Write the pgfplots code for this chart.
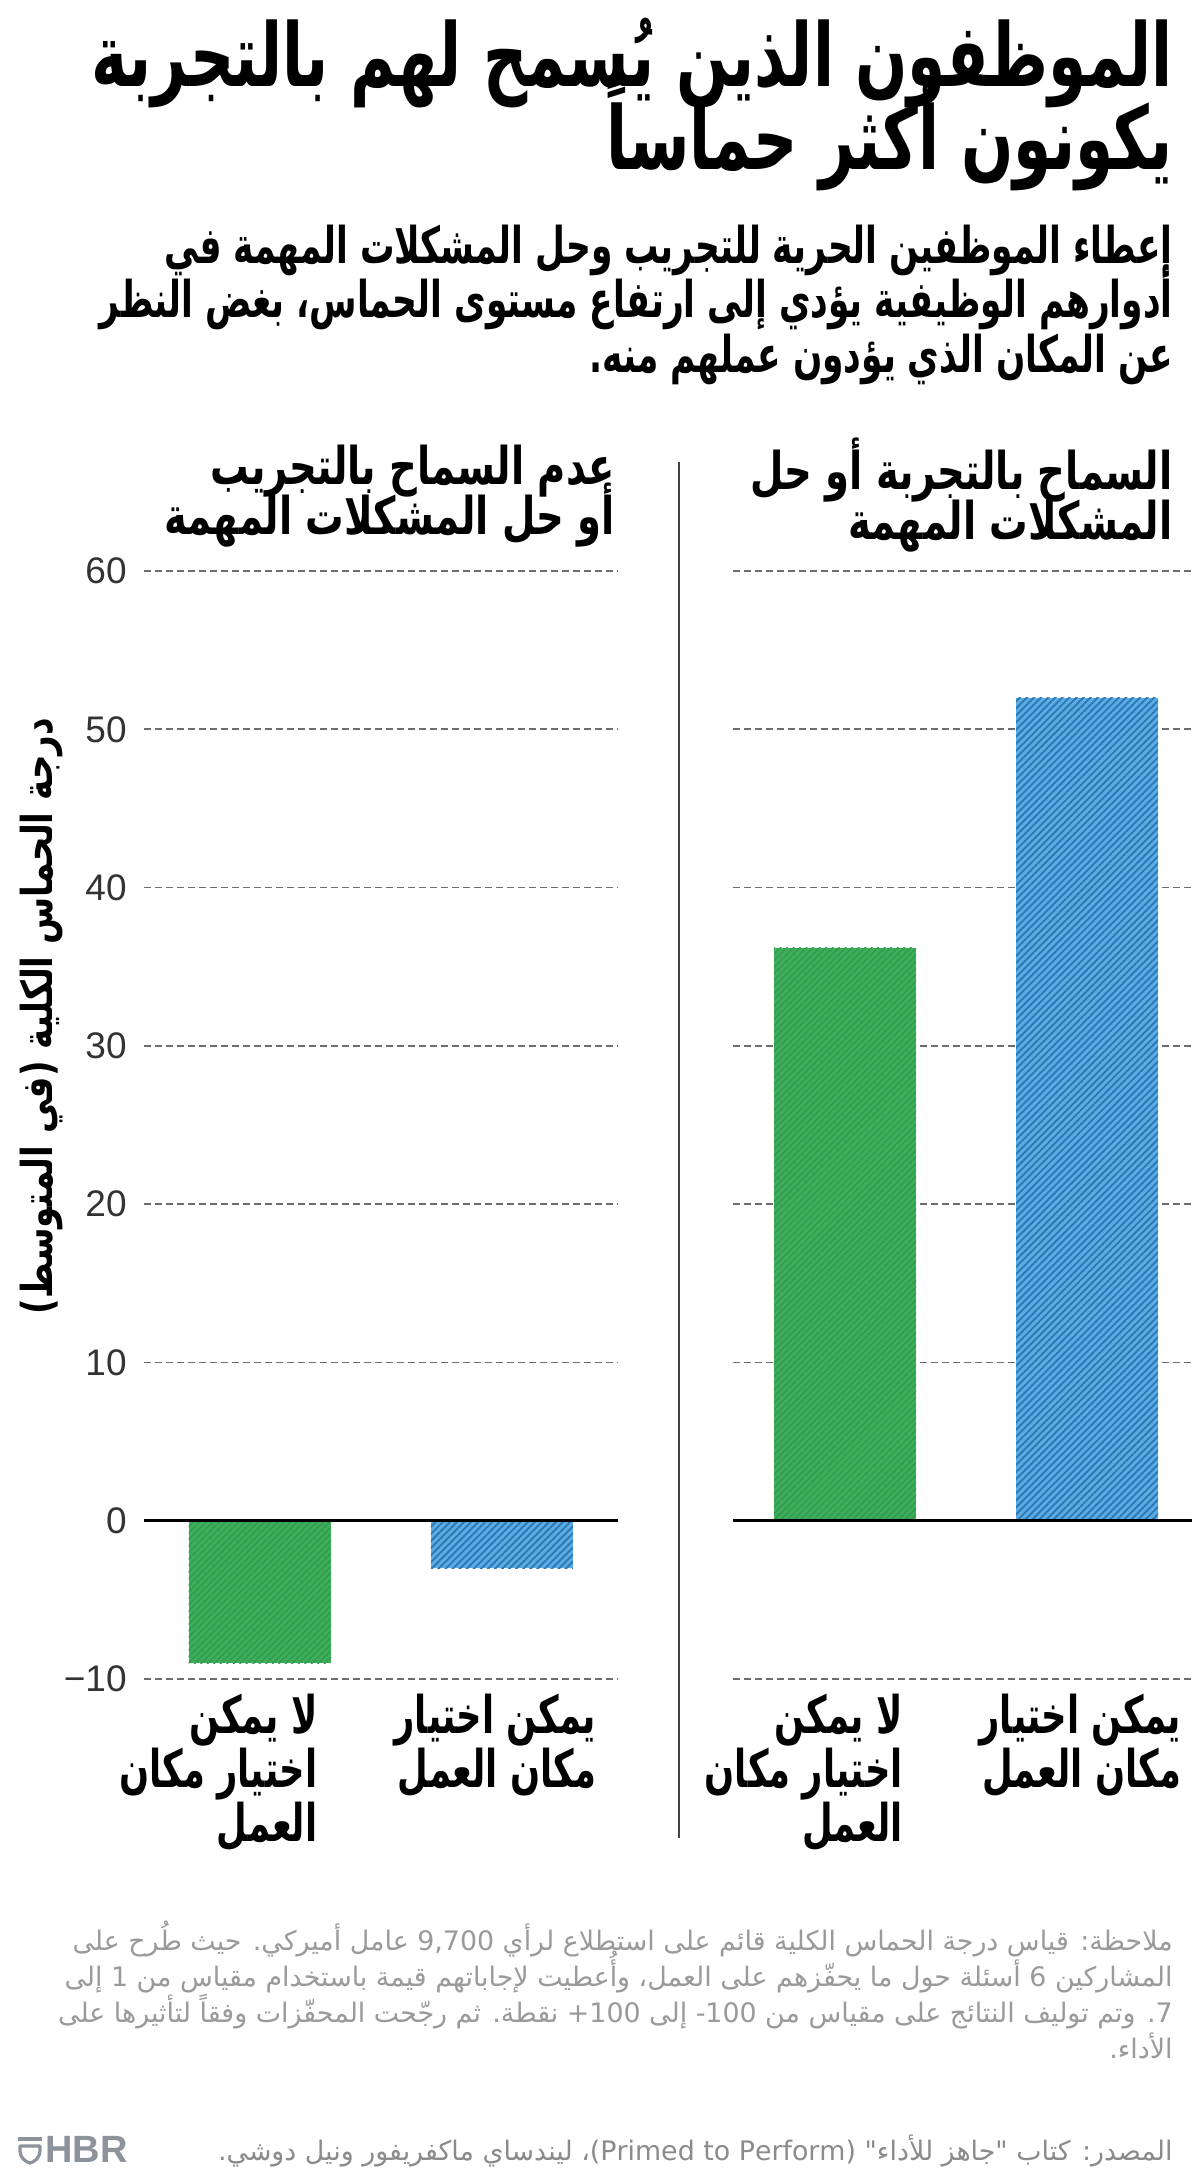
\documentclass[border=0pt]{standalone}
\usepackage{fontspec}
\setmainfont{Liberation Sans}
\usepackage{pgfplots}
\pgfplotsset{compat=1.18}
\usetikzlibrary{patterns.meta}
\TeXXeTstate=1
\newfontfamily\arR[Script=Arabic]{DejaVu Sans}
\newfontfamily\arS[Script=Arabic,FakeStretch=0.8]{DejaVu Sans}
\newfontfamily\arH[Script=Arabic,FakeStretch=0.74]{DejaVu Sans}
\newfontfamily\arC[Script=Arabic,FakeStretch=0.68]{DejaVu Sans}
\newfontfamily\arT[Script=Arabic,FakeStretch=0.7]{DejaVu Sans}
\newfontfamily\libs{Liberation Sans}
\definecolor{gbar}{HTML}{3DAD5B}
\definecolor{ghatch}{HTML}{2F9A4B}
\definecolor{bbar}{HTML}{5CADE0}
\definecolor{bhatch}{HTML}{2C78BA}
\definecolor{gridc}{HTML}{6D6D6D}
\definecolor{tickc}{HTML}{333333}
\definecolor{notec}{HTML}{9A9A9A}
\definecolor{hbrc}{HTML}{8C939B}
\definecolor{divc}{HTML}{444444}
\newlength\fitlen
\newcommand\fitto[4]{\settowidth\fitlen{#2\fontsize{20pt}{24pt}\selectfont\beginR #3\endR}\pgfmathsetmacro#1{20*#4/\fitlen}}
\newcommand\catfont{\arC\bfseries\fontsize{\csz pt}{26pt}\selectfont}
\fitto{\tsz}{\arT\bfseries}{الموظفون الذين يُسمح لهم بالتجربة}{540.5}
\fitto{\ssz}{\arC\bfseries}{أدوارهم الوظيفية يؤدي إلى ارتفاع مستوى الحماس، بغض النظر}{536.5}
\fitto{\hsz}{\arH\bfseries}{أو حل المشكلات المهمة}{225}
\fitto{\ysz}{\arS\bfseries}{درجة الحماس الكلية (في المتوسط)}{298}
\fitto{\csz}{\arC\bfseries}{اختيار مكان}{99}
\fitto{\nsz}{\arR}{ملاحظة: قياس درجة الحماس الكلية قائم على استطلاع لرأي 9,700 عامل أميركي. حيث طُرح على}{550}
\pgfmathsetmacro\catys{\csz-27}
\pgfplotsset{
  panel/.style={
    scale only axis, height=554pt, ymin=-10, ymax=60, ytick={-10,0,...,60},
    enlargelimits=false, axis line style={draw=none}, major tick length=0pt,
    ymajorgrids, major grid style={draw=gridc, dash pattern=on 3.5pt off 2pt, line width=0.9pt},
    xtick={0.24,1.39}, clip=false,
    xticklabels={{\rule{0pt}{1em}\beginR لا يمكن\endR\\\beginR اختيار مكان\endR\\\beginR العمل\endR},{\rule{0pt}{1em}\beginR يمكن اختيار\endR\\\beginR مكان العمل\endR}},
    xticklabel style={anchor=north east, align=right, inner sep=0pt, yshift=\catys pt, font=\catfont},
    yticklabel style={font=\libs\fontsize{18.5pt}{20pt}\selectfont, text=tickc, anchor=east, inner sep=0pt, xshift=-8.5pt},
  },
  gbarst/.style={ybar, bar width=71pt, bar shift=0pt, fill=gbar, draw=none,
    postaction={pattern={Lines[angle=45,distance=2.3pt,line width=0.6pt]}, pattern color=ghatch}},
  bbarst/.style={ybar, bar width=71pt, bar shift=0pt, fill=bbar, draw=none,
    postaction={pattern={Lines[angle=45,distance=2.5pt,line width=0.95pt]}, pattern color=bhatch}},
}
\begin{document}%
\begin{tikzpicture}
\fill[white] (0pt,0pt) rectangle (600pt,-1088.5pt);
\path[use as bounding box] (0pt,0pt) rectangle (600pt,-1088.5pt);
\begin{scope}[every node/.style={anchor=base east, inner sep=0pt}]
% title
\node[font=\arT\bfseries\fontsize{\tsz pt}{\tsz pt}\selectfont] at (586.5pt,-43.5pt) {\beginR الموظفون الذين يُسمح لهم بالتجربة\endR};
\node[font=\arT\bfseries\fontsize{\tsz pt}{\tsz pt}\selectfont] at (586.5pt,-85pt) {\beginR يكونون أكثر حماساً\endR};
% subtitle
\node[font=\arC\bfseries\fontsize{\ssz pt}{\ssz pt}\selectfont] at (586.5pt,-132pt) {\beginR إعطاء الموظفين الحرية للتجريب وحل المشكلات المهمة في\endR};
\node[font=\arC\bfseries\fontsize{\ssz pt}{\ssz pt}\selectfont] at (586.5pt,-159pt) {\beginR أدوارهم الوظيفية يؤدي إلى ارتفاع مستوى الحماس، بغض النظر\endR};
\node[font=\arC\bfseries\fontsize{\ssz pt}{\ssz pt}\selectfont] at (586.5pt,-186pt) {\beginR عن المكان الذي يؤدون عملهم منه.\endR};
% panel headers
\node[font=\arH\bfseries\fontsize{\hsz pt}{\hsz pt}\selectfont] at (307.5pt,-242pt) {\beginR عدم السماح بالتجريب\endR};
\node[font=\arH\bfseries\fontsize{\hsz pt}{\hsz pt}\selectfont] at (307.5pt,-267pt) {\beginR أو حل المشكلات المهمة\endR};
\node[font=\arH\bfseries\fontsize{\hsz pt}{\hsz pt}\selectfont] at (586.5pt,-244.5pt) {\beginR السماح بالتجربة أو حل\endR};
\node[font=\arH\bfseries\fontsize{\hsz pt}{\hsz pt}\selectfont] at (586.5pt,-269.5pt) {\beginR المشكلات المهمة\endR};
% note
\node[font=\arR\fontsize{\nsz pt}{\nsz pt}\selectfont, text=notec] at (586.5pt,-975pt) {\beginR ملاحظة: قياس درجة الحماس الكلية قائم على استطلاع لرأي 9,700 عامل أميركي. حيث طُرح على\endR};
\node[font=\arR\fontsize{\nsz pt}{\nsz pt}\selectfont, text=notec] at (586.5pt,-993pt) {\beginR المشاركين 6 أسئلة حول ما يحفّزهم على العمل، وأُعطيت لإجاباتهم قيمة باستخدام مقياس من 1 إلى\endR};
\node[font=\arR\fontsize{\nsz pt}{\nsz pt}\selectfont, text=notec] at (586.5pt,-1011pt) {\beginR 7. وتم توليف النتائج على مقياس من 100- إلى 100+ نقطة. ثم رجّحت المحفّزات وفقاً لتأثيرها على\endR};
\node[font=\arR\fontsize{\nsz pt}{\nsz pt}\selectfont, text=notec] at (586.5pt,-1029pt) {\beginR الأداء.\endR};
% source
\node[font=\arR\fontsize{\nsz pt}{\nsz pt}\selectfont, text=notec!90!black] at (586.5pt,-1080pt) {\beginR المصدر: كتاب "جاهز للأداء" (\beginL Primed to Perform\endL)، ليندساي ماكفريفور ونيل دوشي.\endR};
\end{scope}
% y label
\node[rotate=90, anchor=center, inner sep=0pt, font=\arS\bfseries\fontsize{\ysz pt}{\ysz pt}\selectfont] at (20.5pt,-508pt) {\beginR درجة الحماس الكلية (في المتوسط)\endR};
% divider
\draw[divc, line width=0.9pt] (339.5pt,-231pt) -- (339.5pt,-919pt);
% HBR logo
\draw[hbrc, line width=2pt] (9pt,-1069.5pt) -- (21pt,-1069.5pt);
\draw[hbrc, line width=1.6pt, line join=round] (10pt,-1073pt) -- (20pt,-1073pt) -- (20pt,-1075.5pt) .. controls (20pt,-1079pt) and (17pt,-1081pt) .. (15pt,-1081.5pt) .. controls (13pt,-1081pt) and (10pt,-1079pt) .. (10pt,-1075.5pt) -- cycle;
\node[anchor=base west, inner sep=0pt, font=\libs\bfseries\fontsize{19pt}{20pt}\selectfont, text=hbrc] at (22.5pt,-1081pt) {HBR};
% left panel
\begin{axis}[panel, at={(72pt,-839.5pt)}, anchor=south west, width=237pt,
  xmin=-0.477, xmax=1.479,
  yticklabels={−10,0,10,20,30,40,50,60}]
\addplot[gbarst] coordinates {(0,-9)};
\addplot[bbarst] coordinates {(1,-3)};
\addplot[black, line width=1.5pt, forget plot] coordinates {(-0.477,0) (1.479,0)};
\end{axis}
% right panel
\begin{axis}[panel, at={(366.5pt,-839.5pt)}, anchor=south west, width=229.5pt,
  xmin=-0.463, xmax=1.434, yticklabels={}]
\addplot[gbarst] coordinates {(0,36.2)};
\addplot[bbarst] coordinates {(1,52)};
\addplot[black, line width=1.5pt, forget plot] coordinates {(-0.463,0) (1.434,0)};
\end{axis}
\end{tikzpicture}%
\end{document}
